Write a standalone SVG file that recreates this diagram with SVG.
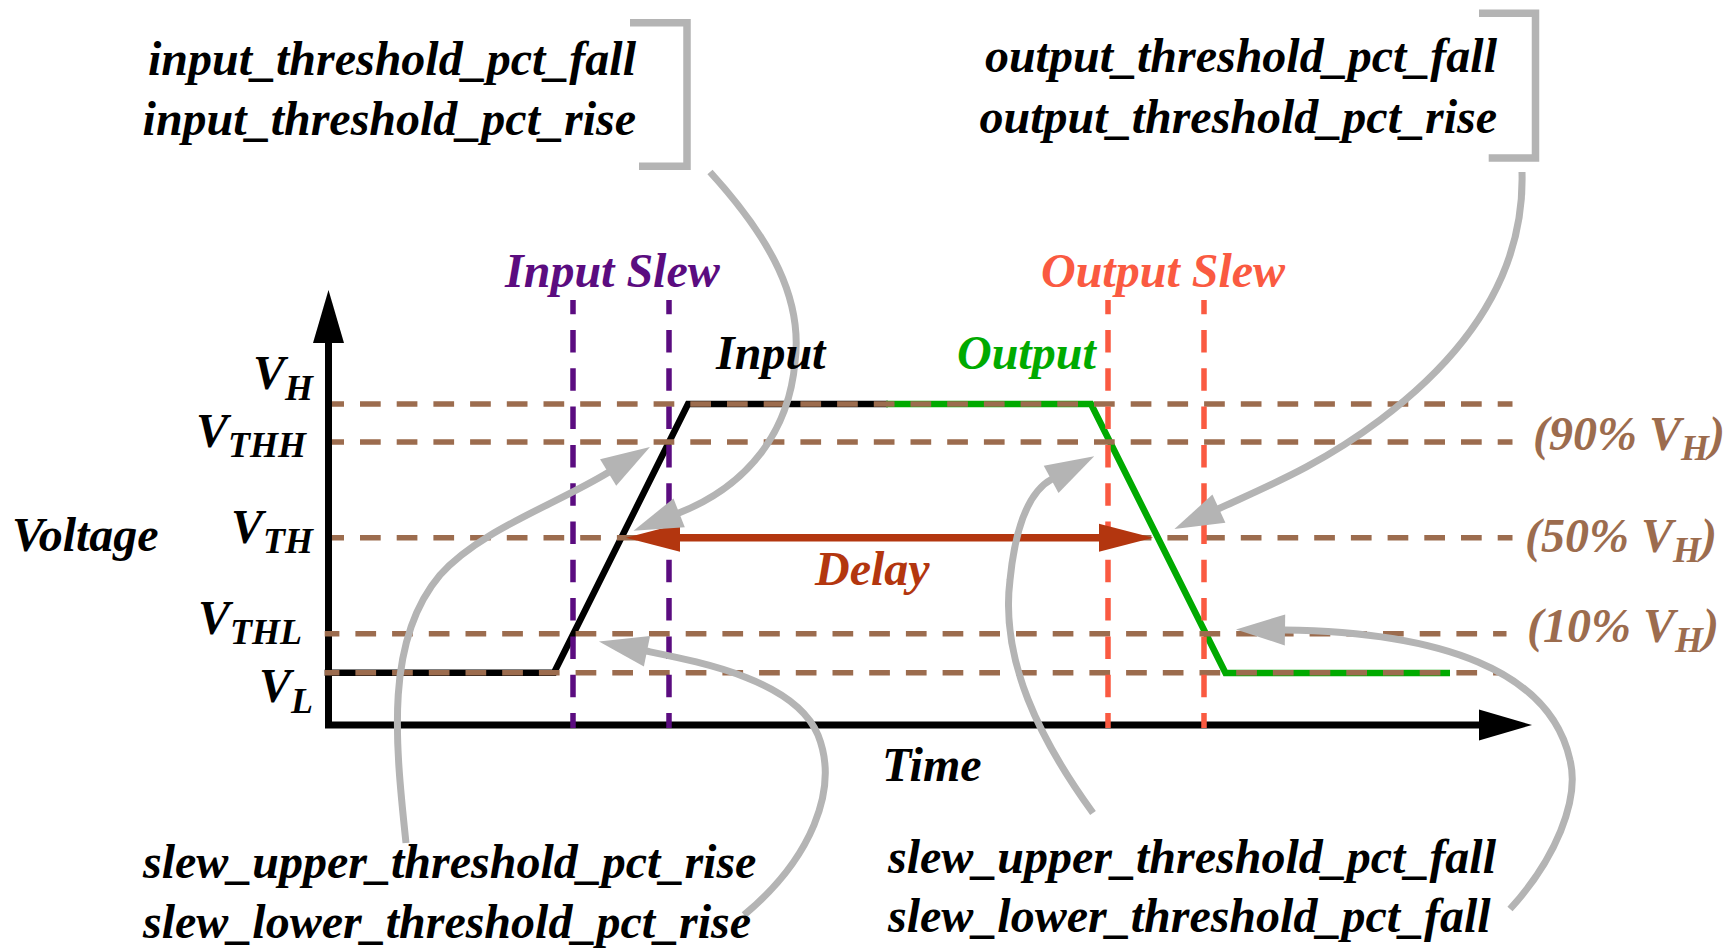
<svg xmlns="http://www.w3.org/2000/svg" width="1728" height="948" viewBox="0 0 1728 948">
<defs>
<style>
text{font-family:"Liberation Serif","Times New Roman",serif;font-weight:bold;font-style:italic;font-size:48px;fill:#000}
.sub{font-size:36px}
.th{fill:none;stroke:#9C6C4E;stroke-width:5.5;stroke-dasharray:20.7 16}
.ths{stroke-dashoffset:8.7}
.thl{stroke-dashoffset:6}
.vs{fill:none;stroke-width:5.5;stroke-dasharray:22.5 15.8;stroke-dashoffset:8.3}
.vp{stroke:#5B0C80}
.vr{stroke:#FA5A41}
.wave{fill:none;stroke-width:6.5;stroke-linejoin:miter}
.conn{fill:none;stroke:#B4B4B4;stroke-width:7;marker-end:url(#garr)}
.brk{fill:none;stroke:#B4B4B4;stroke-width:7.5;stroke-linejoin:miter}
</style>
<marker id="garr" markerUnits="userSpaceOnUse" viewBox="0 -17 52 34" markerWidth="52" markerHeight="34" refX="1" refY="0" orient="auto" overflow="visible">
<path d="M0,-15.5 L49,0 L0,15.5 z" fill="#B4B4B4"/>
</marker>
<marker id="darr" markerUnits="userSpaceOnUse" viewBox="0 -15 56 30" markerWidth="56" markerHeight="30" refX="1" refY="0" orient="auto-start-reverse" overflow="visible">
<path d="M0,-14 L54,0 L0,14 z" fill="#B3360F"/>
</marker>
<marker id="axarr" markerUnits="userSpaceOnUse" viewBox="0 -16 54 32" markerWidth="54" markerHeight="32" refX="1" refY="0" orient="auto-start-reverse" overflow="visible">
<path d="M0,-15.5 L53,0 L0,15.5 z" fill="#000"/>
</marker>
</defs>
<rect width="1728" height="948" fill="#fff"/>

<g id="waveforms">
<polyline id="input-wave" class="wave" stroke="#000" points="324.7,672.7 554,672.7 688,404 888,404"/>
<polyline id="output-wave" class="wave" stroke="#00AA00" points="886,404 1091,404 1225.5,673 1450,673"/>
</g>

<g id="axes">
<path d="M328.5,342 V725 H1480" fill="none" stroke="#000" stroke-width="7" stroke-linejoin="miter" marker-start="url(#axarr)" marker-end="url(#axarr)"/>
</g>

<g id="threshold-lines">
<line class="th ths" x1="332" y1="404" x2="1512.5" y2="404"/>
<line class="th ths" x1="332" y1="442" x2="1512.5" y2="442"/>
<line class="th ths" x1="332" y1="537.7" x2="1512.5" y2="537.7"/>
<line class="th thl" x1="324.7" y1="633.7" x2="1506.5" y2="633.7"/>
<line class="th thl" x1="324.7" y1="672.7" x2="1500.5" y2="672.7"/>
</g>

<g id="slew-lines">
<line class="vs vp" x1="573" y1="300" x2="573" y2="728"/>
<line class="vs vp" x1="669" y1="300" x2="669" y2="728"/>
<line class="vs vr" x1="1108" y1="300" x2="1108" y2="728"/>
<line class="vs vr" x1="1204" y1="300" x2="1204" y2="728"/>
</g>

<g id="connectors">
<path id="delay-arrow" d="M679,537.7 H1100" fill="none" stroke="#B3360F" stroke-width="7.5" marker-start="url(#darr)" marker-end="url(#darr)"/>
<path id="c-input-threshold" class="conn" d="M710,172 C772,240 803,300 795,362 C789,430 750,485 678.2,513.2"/>
<path id="c-output-threshold" class="conn" d="M1522,172 C1525,280 1460,360 1380,420 C1320,465 1270,485 1218,509"/>
<path id="c-slew-upper-rise" class="conn" d="M406,843 C395,740 385,640 440,575 C480,530 555,505 609,472"/>
<path id="c-slew-lower-rise" class="conn" d="M744,915 C810,860 840,790 818,735 C795,680 700,662 646,651"/>
<path id="c-slew-upper-fall" class="conn" d="M1093,813 C1040,740 1000,660 1010,580 C1015,530 1028,492 1052,479"/>
<path id="c-slew-lower-fall" class="conn" d="M1510,909 C1555,860 1580,800 1570,760 C1550,670 1440,632 1284,630"/>
</g>

<g id="input-threshold-label">
<path class="brk" d="M630,22.7 H687 V166.3 H639"/>
<text x="636" y="75" text-anchor="end">input_threshold_pct_fall</text>
<text x="636" y="135" text-anchor="end">input_threshold_pct_rise</text>
</g>

<g id="output-threshold-label">
<path class="brk" d="M1479,13.3 H1535.5 V158 H1488.7"/>
<text x="1497" y="72" text-anchor="end">output_threshold_pct_fall</text>
<text x="1497" y="133" text-anchor="end">output_threshold_pct_rise</text>
</g>

<g id="slew-rise-label">
<text x="143" y="878">slew_upper_threshold_pct_rise</text>
<text x="143" y="938">slew_lower_threshold_pct_rise</text>
</g>

<g id="slew-fall-label">
<text x="888" y="873">slew_upper_threshold_pct_fall</text>
<text x="888" y="932">slew_lower_threshold_pct_fall</text>
</g>

<g id="input-slew-label"><text x="505" y="287" style="fill:#5B0C80">Input Slew</text></g>
<g id="output-slew-label"><text x="1041" y="287" style="fill:#FA5A41">Output Slew</text></g>
<g id="input-label"><text x="716" y="369">Input</text></g>
<g id="output-label"><text x="957" y="369" style="fill:#00AA00">Output</text></g>
<g id="delay-label"><text x="815" y="585" style="fill:#B3360F">Delay</text></g>
<g id="time-label"><text x="882" y="781">Time</text></g>
<g id="voltage-label"><text x="12" y="551">Voltage</text></g>

<g id="v-labels">
<text x="313" y="389" text-anchor="end">V<tspan class="sub" dy="11">H</tspan></text>
<text x="306" y="446.5" text-anchor="end">V<tspan class="sub" dy="10.5">THH</tspan></text>
<text x="313" y="542.5" text-anchor="end">V<tspan class="sub" dy="10">TH</tspan></text>
<text x="302" y="633.5" text-anchor="end">V<tspan class="sub" dy="10.5">THL</tspan></text>
<text x="313" y="701.5" text-anchor="end">V<tspan class="sub" dy="11">L</tspan></text>
</g>

<g id="pct-labels">
<text x="1533" y="450" style="fill:#9C6C4E">(90% V<tspan class="sub" dy="10">H</tspan><tspan dy="-10">)</tspan></text>
<text x="1525" y="551.7" style="fill:#9C6C4E">(50% V<tspan class="sub" dy="10">H</tspan><tspan dy="-10">)</tspan></text>
<text x="1527" y="641.7" style="fill:#9C6C4E">(10% V<tspan class="sub" dy="10">H</tspan><tspan dy="-10">)</tspan></text>
</g>
</svg>
